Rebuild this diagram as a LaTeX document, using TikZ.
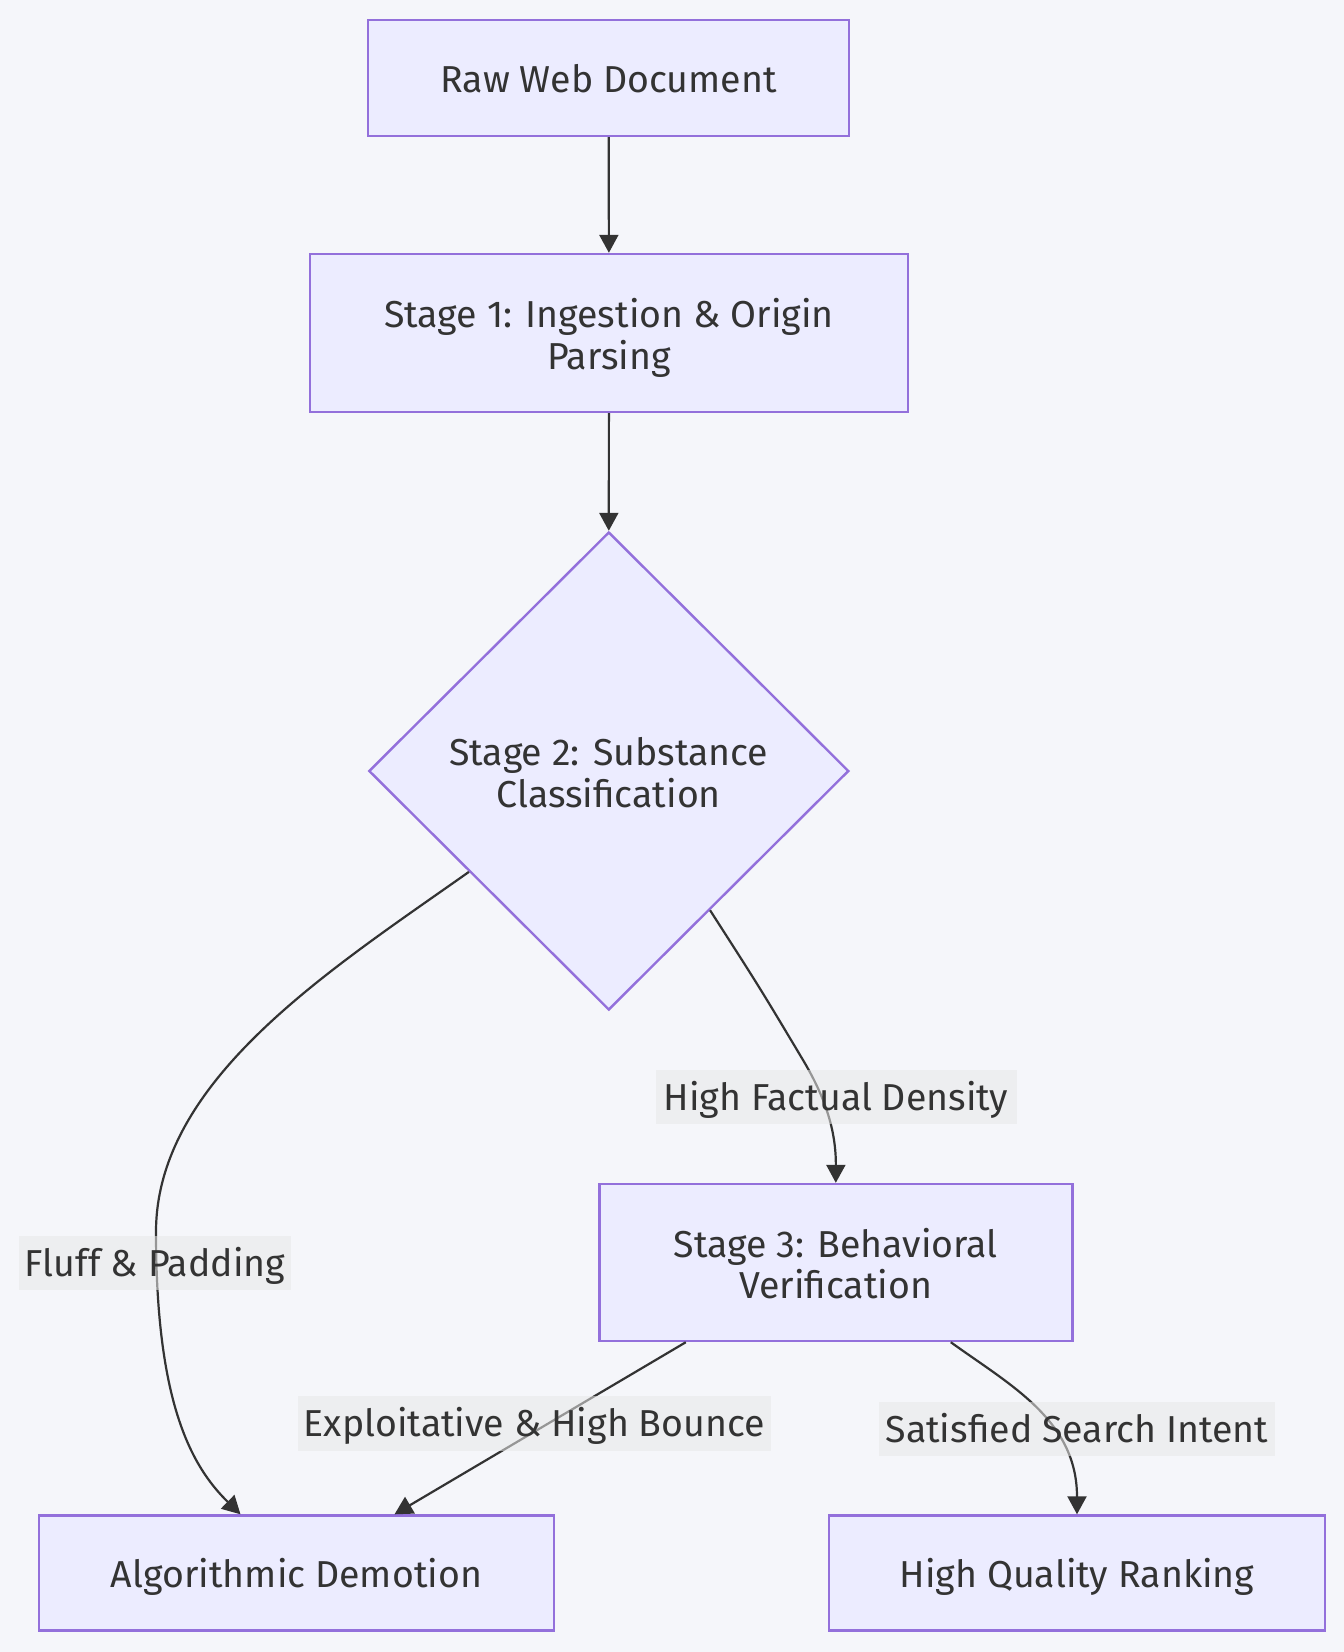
\documentclass[tikz,border=0pt]{standalone}
\usepackage{fontspec}
\setmainfont{Fira Sans}
\usetikzlibrary{shapes.geometric,arrows.meta,calc}
\definecolor{bgc}{HTML}{F5F6FA}
\definecolor{nfill}{HTML}{ECECFF}
\definecolor{nstroke}{HTML}{9370DB}
\definecolor{txt}{HTML}{333333}
\definecolor{lbl}{HTML}{E8E8E8}
\newcommand{\twolines}[2]{\begin{tabular}[t]{@{}c@{}}#1\\#2\end{tabular}}
\tikzset{
  fnt/.style={font=\fontsize{37.5}{41}\selectfont},
  box/.style={draw=nstroke, fill=nfill, line width=2.4pt, rectangle, inner sep=0pt, text=txt, fnt, text height=37pt, text depth=8pt},
  twoline/.style={text height=30pt, text depth=41pt},
  decision/.style={draw=nstroke, fill=nfill, line width=2.4pt, diamond, inner sep=0pt, text=txt, fnt},
  edge/.style={draw=txt, line width=2.2pt, -{Triangle[length=18pt,width=19pt]}},
  elabel/.style={fill=lbl, fill opacity=0.55, text opacity=1, text=txt, inner sep=0pt, fnt, text height=34pt, text depth=8pt}
}
\begin{document}
\begin{tikzpicture}[x=1pt,y=-1pt]
\fill[bgc] (0,0) rectangle (1344,1652);
\useasboundingbox (0,0) rectangle (1344,1652);

\node[box, minimum width=481pt, minimum height=116pt] (raw) at (608.7,78) {Raw Web Document};
\node[box, twoline, minimum width=598pt, minimum height=158pt] (s1) at (608.9,333) {\twolines{Stage 1: Ingestion \& Origin}{Parsing}};
\node[decision, twoline, minimum width=480pt, minimum height=478pt] (s2) at (608.8,771) {\twolines{Stage 2: Substance}{Classification}};
\node[box, twoline, minimum width=473pt, minimum height=157pt] (s3) at (835.8,1262.5) {\twolines{Stage 3: Behavioral}{Verification}};
\node[box, minimum width=515pt, minimum height=115pt] (alg) at (296.5,1573) {Algorithmic Demotion};
\node[box, minimum width=496pt, minimum height=115pt] (hqr) at (1077,1573) {High Quality Ranking};

\draw[edge] (raw.south) -- (s1.north);
\draw[edge] (s1.south) -- (s2.north);
\draw[edge] ($(s2.west)!0.42!(s2.south)$) .. controls (330,970) and (156,1080) .. (156,1232)
   .. controls (156,1400) and (190,1465) .. ([xshift=-56pt]alg.north);
\draw[edge] ($(s2.south)!0.42!(s2.east)$) .. controls (760,988) .. (803,1060)
   .. controls (825,1097) and (836,1130) .. (s3.north);
\draw[edge] ([xshift=-150pt]s3.south) -- ([xshift=98pt]alg.north);
\draw[edge] ([xshift=115pt]s3.south) .. controls (1010,1385) and (1077,1420) .. (hqr.north);

\node[elabel, minimum width=361pt, minimum height=54pt] (l1) at (836,1097) {High Factual Density};
\node[elabel, minimum width=272pt, minimum height=54pt] (l2) at (155,1263) {Fluff \& Padding};
\node[elabel, minimum width=473pt, minimum height=55pt] (l3) at (534.5,1423.5) {Exploitative \& High Bounce};
\node[elabel, minimum width=396pt, minimum height=54pt] (l4) at (1077,1429) {Satisfied Search Intent};
\end{tikzpicture}
\end{document}
